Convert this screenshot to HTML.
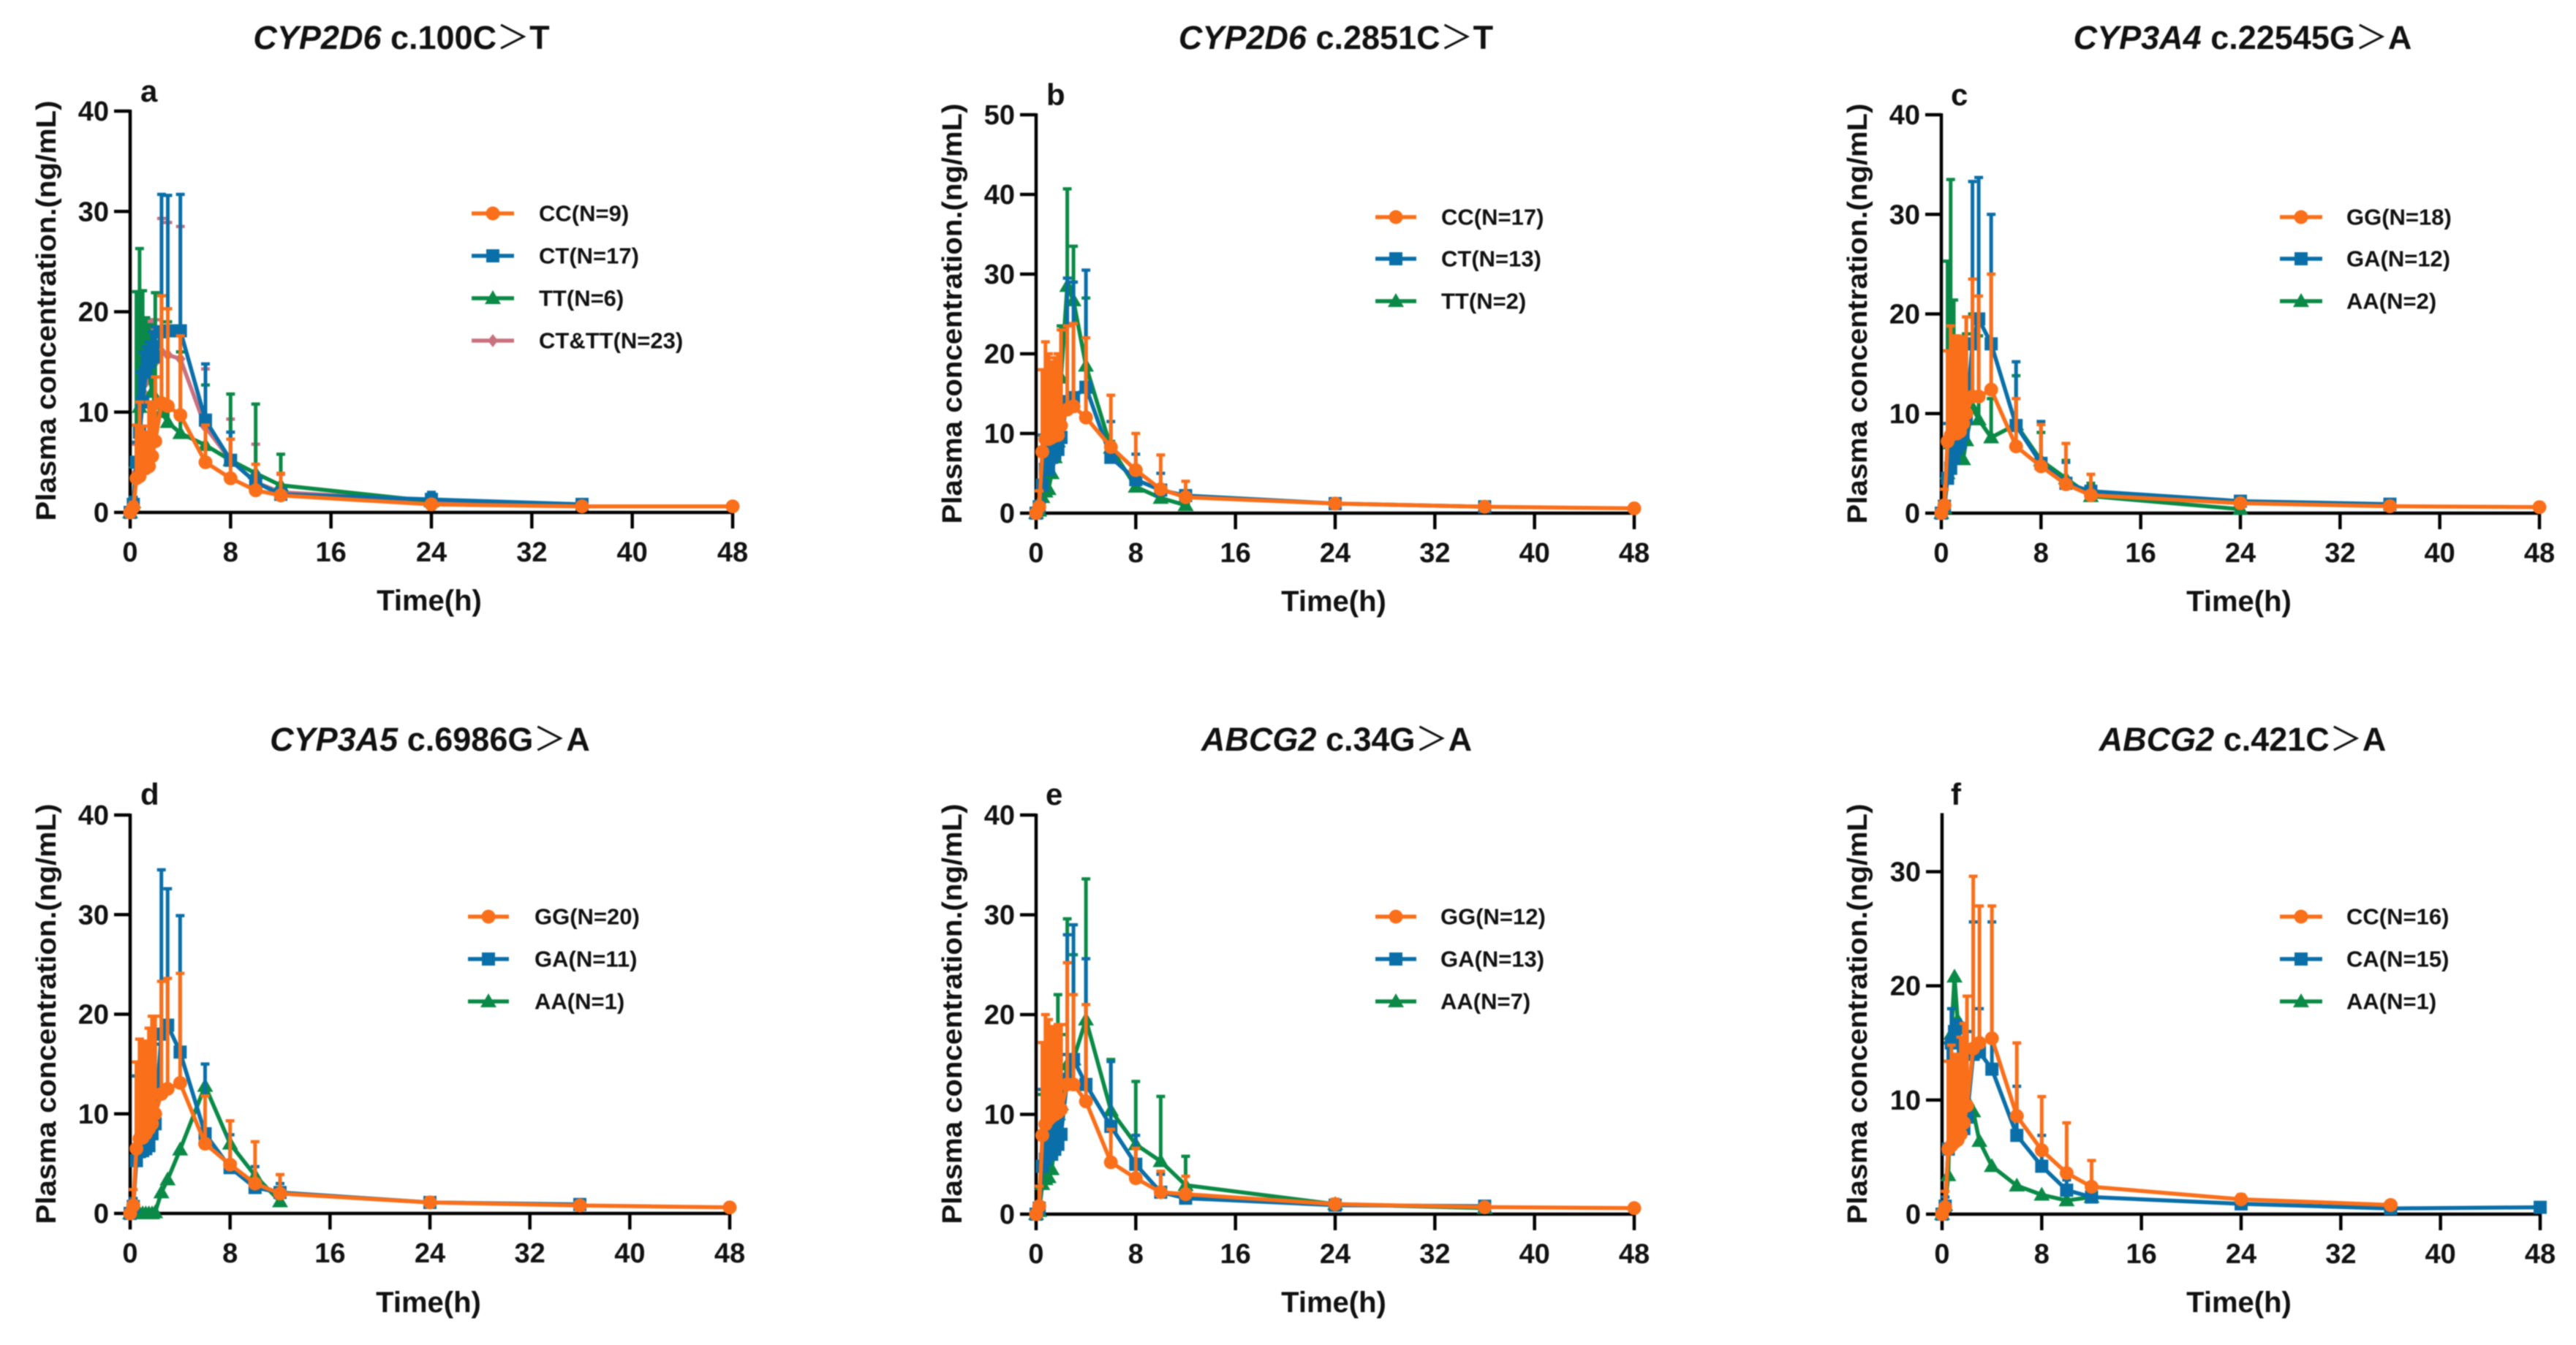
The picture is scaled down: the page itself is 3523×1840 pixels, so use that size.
<!DOCTYPE html>
<html lang="en">
<head>
<meta charset="utf-8">
<title>Plasma concentration by genotype</title>
<style>
html,body{margin:0;padding:0;background:#fff;}
svg{display:block;filter:blur(0.9px);}
text{font-family:"Liberation Sans","Noto Sans CJK SC",sans-serif;font-weight:700;fill:#111;}
.title{font-size:45px;text-anchor:middle;}
.gt{font-weight:400;font-family:"Noto Sans CJK SC","Liberation Sans",sans-serif;}
.ylab{font-size:38px;text-anchor:middle;}
.xlab{font-size:40px;text-anchor:middle;}
.tag{font-size:42px;}
.leg{font-size:31px;dominant-baseline:central;}
.tick{font-size:38px;}
</style>
</head>
<body>
<svg id="figure" xmlns="http://www.w3.org/2000/svg" width="3523" height="1840" viewBox="0 0 3523 1840">
<rect x="0" y="0" width="3523" height="1840" fill="#fff"/>
<g>
<text class="title" x="549" y="67"><tspan font-style="italic">CYP2D6</tspan> c.100C<tspan class="gt">＞</tspan>T</text>
<text class="title" x="1827" y="67"><tspan font-style="italic">CYP2D6</tspan> c.2851C<tspan class="gt">＞</tspan>T</text>
<text class="title" x="3067" y="67"><tspan font-style="italic">CYP3A4</tspan> c.22545G<tspan class="gt">＞</tspan>A</text>
<text class="title" x="588" y="1027"><tspan font-style="italic">CYP3A5</tspan> c.6986G<tspan class="gt">＞</tspan>A</text>
<text class="title" x="1828" y="1027"><tspan font-style="italic">ABCG2</tspan> c.34G<tspan class="gt">＞</tspan>A</text>
<text class="title" x="3067" y="1027"><tspan font-style="italic">ABCG2</tspan> c.421C<tspan class="gt">＞</tspan>A</text>
</g>
<g>
<text class="tag" x="192" y="139">a</text>
<text class="tag" x="1431" y="144">b</text>
<text class="tag" x="2668" y="144">c</text>
<text class="tag" x="192" y="1101">d</text>
<text class="tag" x="1430" y="1101">e</text>
<text class="tag" x="2668" y="1101">f</text>
</g>
<g>
<text class="ylab" transform="translate(76,425) rotate(-90)" textLength="575" lengthAdjust="spacingAndGlyphs">Plasma concentration.(ng/mL)</text>
<text class="ylab" transform="translate(1315,429) rotate(-90)" textLength="575" lengthAdjust="spacingAndGlyphs">Plasma concentration.(ng/mL)</text>
<text class="ylab" transform="translate(2553,429) rotate(-90)" textLength="575" lengthAdjust="spacingAndGlyphs">Plasma concentration.(ng/mL)</text>
<text class="ylab" transform="translate(76,1387) rotate(-90)" textLength="575" lengthAdjust="spacingAndGlyphs">Plasma concentration.(ng/mL)</text>
<text class="ylab" transform="translate(1315,1387) rotate(-90)" textLength="575" lengthAdjust="spacingAndGlyphs">Plasma concentration.(ng/mL)</text>
<text class="ylab" transform="translate(2553,1387) rotate(-90)" textLength="575" lengthAdjust="spacingAndGlyphs">Plasma concentration.(ng/mL)</text>
</g>
<g>
<text class="xlab" x="587" y="835">Time(h)</text>
<text class="xlab" x="1824" y="836">Time(h)</text>
<text class="xlab" x="3062" y="836">Time(h)</text>
<text class="xlab" x="586" y="1795">Time(h)</text>
<text class="xlab" x="1824" y="1795">Time(h)</text>
<text class="xlab" x="3062" y="1795">Time(h)</text>
</g>
<g>
<text class="leg" x="737" y="292">CC(N=9)</text>
<text class="leg" x="737" y="350">CT(N=17)</text>
<text class="leg" x="737" y="408">TT(N=6)</text>
<text class="leg" x="737" y="466">CT&amp;TT(N=23)</text>
<text class="leg" x="1971" y="297">CC(N=17)</text>
<text class="leg" x="1971" y="354">CT(N=13)</text>
<text class="leg" x="1971" y="412">TT(N=2)</text>
<text class="leg" x="3209" y="297">GG(N=18)</text>
<text class="leg" x="3209" y="354">GA(N=12)</text>
<text class="leg" x="3209" y="412">AA(N=2)</text>
<text class="leg" x="731" y="1254">GG(N=20)</text>
<text class="leg" x="731" y="1312">GA(N=11)</text>
<text class="leg" x="731" y="1370">AA(N=1)</text>
<text class="leg" x="1970" y="1254">GG(N=12)</text>
<text class="leg" x="1970" y="1312">GA(N=13)</text>
<text class="leg" x="1970" y="1370">AA(N=7)</text>
<text class="leg" x="3209" y="1254">CC(N=16)</text>
<text class="leg" x="3209" y="1312">CA(N=15)</text>
<text class="leg" x="3209" y="1370">AA(N=1)</text>
</g>
</svg>
<script>
// Shared sampling times and tick labels
const times = [0,0.25,0.5,0.75,1,1.25,1.5,1.75,2,2.5,3,4,6,8,10,12,24,36,48];
const xTickLabels = [0,8,16,24,32,40,48];
const yTicks40 = [0,10,20,30,40];
const yTicks50 = [0,10,20,30,40,50];
const yTicks35 = [0,10,20,30];

// Panel a
const aCCMean  = [0,0.5,3.4,3.6,4.3,4.4,4.6,5.6,7.1,10.9,10.6,9.7,5,3.4,2.2,1.7,0.8,0.6,0.6];
const aCCUpper = [0,1,8.7,11,8.6,8,11,11,13.5,21.6,20.3,17.6,8.7,7.3,4.8,3.9,1.1,0.8,0.7];
const aCTMean  = [0,0.8,5,8,11,14,15,16,15.5,18,18.1,18.1,9.2,5.2,3,1.8,1.3,0.8,null];
const aCTUpper = [0,1.5,7,14,16,16.5,17,18,18.5,31.7,31.6,31.7,14.8,8,3.9,2.4,2,1.1,null];
const aTTMean  = [0,1,5,10.5,16,15,14,12,11,10,9,7.9,6.7,5.2,3.9,2.7,1.1,null,null];
const aTTUpper = [0,1.5,22,26.3,22.1,19.4,18.7,18,21.9,18,19,16,12.7,11.8,10.8,5.8,1.5,null,null];
const aMixMean  = [0,0.8,4,7,12,13,14.5,15,15,16,15.7,15.3,8.5,5.2,3,2,1.2,0.8,null];
const aMixUpper = [0,1,6.8,16.2,19,19,19.2,19,19.2,29.3,28.9,28.5,14.3,9.3,6.8,3.8,1.8,1,null];

// Panel b
const bCCMean  = [0,0.8,7.7,9.3,9.3,9.5,9.7,9.8,11,13,13.4,12,8.3,5.4,3,2,1.2,0.8,0.6];
const bCCUpper = [0,2.8,18,21.5,20,19,19.5,20,23,23.5,23.8,22,14.8,10,7.3,4,1.6,1,0.7];
const bCTMean  = [0,0.8,3.5,5.5,5.5,7,7.5,8,9.5,14,14.5,15.8,7,4.2,2.9,2.2,1.2,0.8,null];
const bCTUpper = [0,1.5,9.8,10,11,11,11,12,14,29.5,29,30.5,11.5,7.4,5,2.8,1.5,1,null];
const bTTMean  = [0,0.3,2,2.7,3,5,7,9,17,28.5,26.7,18.5,8.2,3.3,1.9,1,null,null,null];
const bTTUpper = [0,0.5,3,4,5,8,12,16,23.5,40.7,33.5,27,9,4,2.3,1.3,null,null,null];

// Panel c
const cGGMean  = [0,0.8,7.2,7.8,8,8,8.2,9,10,11.7,11.7,12.4,6.7,4.7,2.9,1.8,1,0.7,0.6];
const cGGUpper = [0,2.4,16.3,18.8,17.8,17.8,17.6,17.7,19.7,23.5,21.8,24,11.5,8.9,7,3.9,1.4,0.9,0.7];
const cGAMean  = [0,0.7,3.5,4.5,5.5,6.5,7,8,9.5,17,19.5,17,8.8,5,3,2.2,1.2,0.9,null];
const cGAUpper = [0,1.2,9,10,11,12,12,13,16.5,33.3,33.7,30,15.2,9.2,5.1,2.7,1.6,1.2,null];
const cAAMean  = [0,0.5,4,7,6.5,6,5.5,5.4,7.3,10.6,9.4,7.6,8.9,5.3,3.5,1.7,0.4,null,null];
const cAAUpper = [0,0.8,25.3,33.5,21.4,15,12,14,18,20,17.8,11.5,13.8,8.1,5.3,3,0.6,null,null];

// Panel d
const dGGMean  = [0,0.8,6.5,7.5,7.6,8,8.5,9,10,12,12.5,13.1,7,4.9,3,2,1.1,0.8,0.6];
const dGGUpper = [0,2.4,15.2,17.5,17.3,17.2,18.6,19.8,19.8,23.3,23.6,24.1,11.8,9.3,7.2,3.9,1.6,1,0.7];
const dGAMean  = [0,0.7,5.3,6.2,6.3,6.5,6.8,8,9,18,18.9,16.2,8,4.6,2.6,2.1,1.1,0.9,null];
const dGAUpper = [0,1.5,13.8,14,14,14.5,15,16,17,34.5,32.6,29.9,15,7.9,4.7,3,1.6,1.2,null];
const dAAMean  = [0,0,0,0,0,0,0,0,0.1,2.1,3.4,6.4,12.8,7,3.8,1.2,null,null,null];

// Panel e
const eGGMean  = [0,0.8,7.9,9,9.5,9.8,10,10.2,10.5,13,13,11.3,5.2,3.6,2.2,2,1,0.7,0.6];
const eGGUpper = [0,2.8,17.2,20,19.5,18.8,18.7,19,19,25.2,22,21,8.5,6.6,4.3,3.8,1.5,0.9,0.7];
const eGAMean  = [0,0.6,4.8,5.5,6.5,6,6.5,7,8,13.5,15.5,13,8.8,5,2.2,1.6,0.9,0.8,null];
const eGAUpper = [0,1.2,12.5,11,12,12,12,14,16,28,29,25.6,15.3,7.9,4,2.3,1.3,1,null];
const eAAMean  = [0,0.3,3,3.5,3.7,4.5,7,10,11,15,15.5,19.5,10.4,7,5.3,2.9,1,0.6,null];
const eAAUpper = [0,0.8,12,9,14,12,18,22,18,29.6,26,33.6,15.5,13.3,11.8,5.8,1.4,0.8,null];

// Panel f
const fCCMean  = [0,0.6,5.7,6,6.3,6.5,7,8,9.5,14.5,15,15.4,8.6,5.6,3.6,2.4,1.3,0.8,null];
const fCCUpper = [0,2,13.4,14.8,14,14,15.5,16.7,19.1,29.6,27,27,15,10.3,8,4.7,1.7,1,null];
const fCAMean  = [0,0.7,5.7,15,16,16.3,11,7.5,8.5,14,14.2,12.7,6.9,4.2,2.1,1.5,0.9,0.5,0.6];
const fCAUpper = [0,1.5,15,18,16.6,17,13,10,16,25.6,18,25.6,11.2,6.9,3,1.9,1.3,0.7,0.8];
const fAAMean  = [0,0.8,3.4,15.8,20.8,17,14,12,10,9,6.4,4.2,2.5,1.7,1.2,1.5,null,null,null];

const svgNS = 'http://www.w3.org/2000/svg';
const figure = document.getElementById('figure');
const seriesStyles = {
  orange: {color:'#f96f1a', marker:'circle'},
  blue:   {color:'#0a6fa8', marker:'square'},
  green:  {color:'#0a8a46', marker:'triangle'},
  pink:   {color:'#c9717f', marker:'diamond'}
};

// Layout of each panel; series listed back-to-front
const panels = [
  {id:'a', x0:178, x48:1002, y0:701, yRefPx:152, yRefVal:40, yTop:40, ticks:yTicks40,
   legendX:645, legendW:58, legendY:[292,350,408,466],
   legendOrder:['orange','blue','green','pink'],
   series:[
    {name:'ct-tt', style:'pink', mean:aMixMean, upper:aMixUpper},
    {name:'tt', style:'green', mean:aTTMean, upper:aTTUpper},
    {name:'ct', style:'blue', mean:aCTMean, upper:aCTUpper},
    {name:'cc', style:'orange', mean:aCCMean, upper:aCCUpper}]},
  {id:'b', x0:1417, x48:2235, y0:702, yRefPx:157, yRefVal:50, yTop:50, ticks:yTicks50,
   legendX:1881, legendW:56, legendY:[297,354,412],
   legendOrder:['orange','blue','green'],
   series:[
    {name:'tt', style:'green', mean:bTTMean, upper:bTTUpper},
    {name:'ct', style:'blue', mean:bCTMean, upper:bCTUpper},
    {name:'cc', style:'orange', mean:bCCMean, upper:bCCUpper}]},
  {id:'c', x0:2655, x48:3473, y0:702, yRefPx:157, yRefVal:40, yTop:40, ticks:yTicks40,
   legendX:3118, legendW:58, legendY:[297,354,412],
   legendOrder:['orange','blue','green'],
   series:[
    {name:'aa', style:'green', mean:cAAMean, upper:cAAUpper},
    {name:'ga', style:'blue', mean:cGAMean, upper:cGAUpper},
    {name:'gg', style:'orange', mean:cGGMean, upper:cGGUpper}]},
  {id:'d', x0:178, x48:998, y0:1660, yRefPx:1115, yRefVal:40, yTop:40, ticks:yTicks40,
   legendX:640, legendW:56, legendY:[1254,1312,1370],
   legendOrder:['orange','blue','green'],
   series:[
    {name:'aa', style:'green', mean:dAAMean, upper:null},
    {name:'ga', style:'blue', mean:dGAMean, upper:dGAUpper},
    {name:'gg', style:'orange', mean:dGGMean, upper:dGGUpper}]},
  {id:'e', x0:1417, x48:2235, y0:1661, yRefPx:1115, yRefVal:40, yTop:40, ticks:yTicks40,
   legendX:1881, legendW:56, legendY:[1254,1312,1370],
   legendOrder:['orange','blue','green'],
   series:[
    {name:'aa', style:'green', mean:eAAMean, upper:eAAUpper},
    {name:'ga', style:'blue', mean:eGAMean, upper:eGAUpper},
    {name:'gg', style:'orange', mean:eGGMean, upper:eGGUpper}]},
  {id:'f', x0:2656, x48:3474, y0:1661, yRefPx:1192.5, yRefVal:30, yTop:35, ticks:yTicks35,
   legendX:3118, legendW:58, legendY:[1254,1312,1370],
   legendOrder:['orange','blue','green'],
   series:[
    {name:'aa', style:'green', mean:fAAMean, upper:null},
    {name:'ca', style:'blue', mean:fCAMean, upper:fCAUpper},
    {name:'cc', style:'orange', mean:fCCMean, upper:fCCUpper}]}
];

function make(tag, attrs, parent){
  const el = document.createElementNS(svgNS, tag);
  for (const k in attrs) el.setAttribute(k, attrs[k]);
  parent.appendChild(el);
  return el;
}
function xScale(p, t){ return p.x0 + (p.x48 - p.x0) * t / 48; }
function yScale(p, v){ return p.y0 - (p.y0 - p.yRefPx) * v / p.yRefVal; }

function drawMarker(kind, x, y, color, parent){
  let m;
  if (kind === 'circle') {
    m = make('circle', {cx:x, cy:y, r:9.5, fill:color}, parent);
  } else if (kind === 'square') {
    m = make('rect', {x:x-9, y:y-9, width:18, height:18, fill:color}, parent);
  } else if (kind === 'triangle') {
    m = make('polygon', {points:(x)+','+(y-11)+' '+(x+11)+','+(y+8)+' '+(x-11)+','+(y+8), fill:color}, parent);
  } else {
    m = make('polygon', {points:(x)+','+(y-9)+' '+(x+7)+','+(y)+' '+(x)+','+(y+9)+' '+(x-7)+','+(y), fill:color}, parent);
  }
  
  
}

function drawAxes(p){
  const g = make('g', {}, figure);
  
  
  const sw = 4.5, len = 22;
  const yAxis = make('line', {x1:p.x0, x2:p.x0, y1:yScale(p,p.yTop)-2, y2:p.y0+2, stroke:'#000', 'stroke-width':sw}, g);
  
  
  const xAxis = make('line', {x1:p.x0-2, x2:p.x48+2, y1:p.y0, y2:p.y0, stroke:'#000', 'stroke-width':sw}, g);
  
  
  p.ticks.forEach(function(v){
    const y = yScale(p, v);
    const t = make('line', {x1:p.x0-len, x2:p.x0, y1:y, y2:y, stroke:'#000', 'stroke-width':sw}, g);
    
    
    const label = make('text', {class:'tick', x:p.x0-29, y:y+13, 'text-anchor':'end'}, g);
    label.textContent = String(v);
    
    
  });
  xTickLabels.forEach(function(v){
    const x = xScale(p, v);
    const t = make('line', {x1:x, x2:x, y1:p.y0, y2:p.y0+len, stroke:'#000', 'stroke-width':sw}, g);
    
    
    const label = make('text', {class:'tick', x:x, y:p.y0+67, 'text-anchor':'middle'}, g);
    label.textContent = String(v);
    
    
  });
}

function drawSeries(p, s){
  const st = seriesStyles[s.style];
  const g = make('g', {}, figure);
  
  
  if (s.upper) {
    times.forEach(function(t, i){
      if (s.mean[i] === null || s.upper[i] === null) return;
      const x = xScale(p, t), y1 = yScale(p, s.mean[i]), y2 = yScale(p, s.upper[i]);
      const bar = make('line', {x1:x, x2:x, y1:y1, y2:y2, stroke:st.color, 'stroke-width':5}, g);
      
      
      const cap = make('line', {x1:x-6, x2:x+6, y1:y2, y2:y2, stroke:st.color, 'stroke-width':4.5}, g);
      
      
    });
  }
  const pts = [];
  times.forEach(function(t, i){
    if (s.mean[i] !== null) pts.push(xScale(p, t).toFixed(1) + ',' + yScale(p, s.mean[i]).toFixed(1));
  });
  const line = make('polyline', {points:pts.join(' '), fill:'none', stroke:st.color, 'stroke-width':5.5, 'stroke-linejoin':'round'}, g);
  
  
  times.forEach(function(t, i){
    if (s.mean[i] !== null) drawMarker(st.marker, xScale(p, t), yScale(p, s.mean[i]), st.color, g);
  });
}

function drawLegend(p){
  const g = make('g', {}, figure);
  
  
  p.legendOrder.forEach(function(key, i){
    const st = seriesStyles[key];
    const y = p.legendY[i];
    const l = make('line', {x1:p.legendX, x2:p.legendX+p.legendW, y1:y, y2:y, stroke:st.color, 'stroke-width':5.5}, g);
    
    
    drawMarker(st.marker, p.legendX + p.legendW/2, y, st.color, g);
  });
}

panels.forEach(function(p){
  drawAxes(p);
  p.series.forEach(function(s){ drawSeries(p, s); });
  drawLegend(p);
});
</script>
</body>
</html>
